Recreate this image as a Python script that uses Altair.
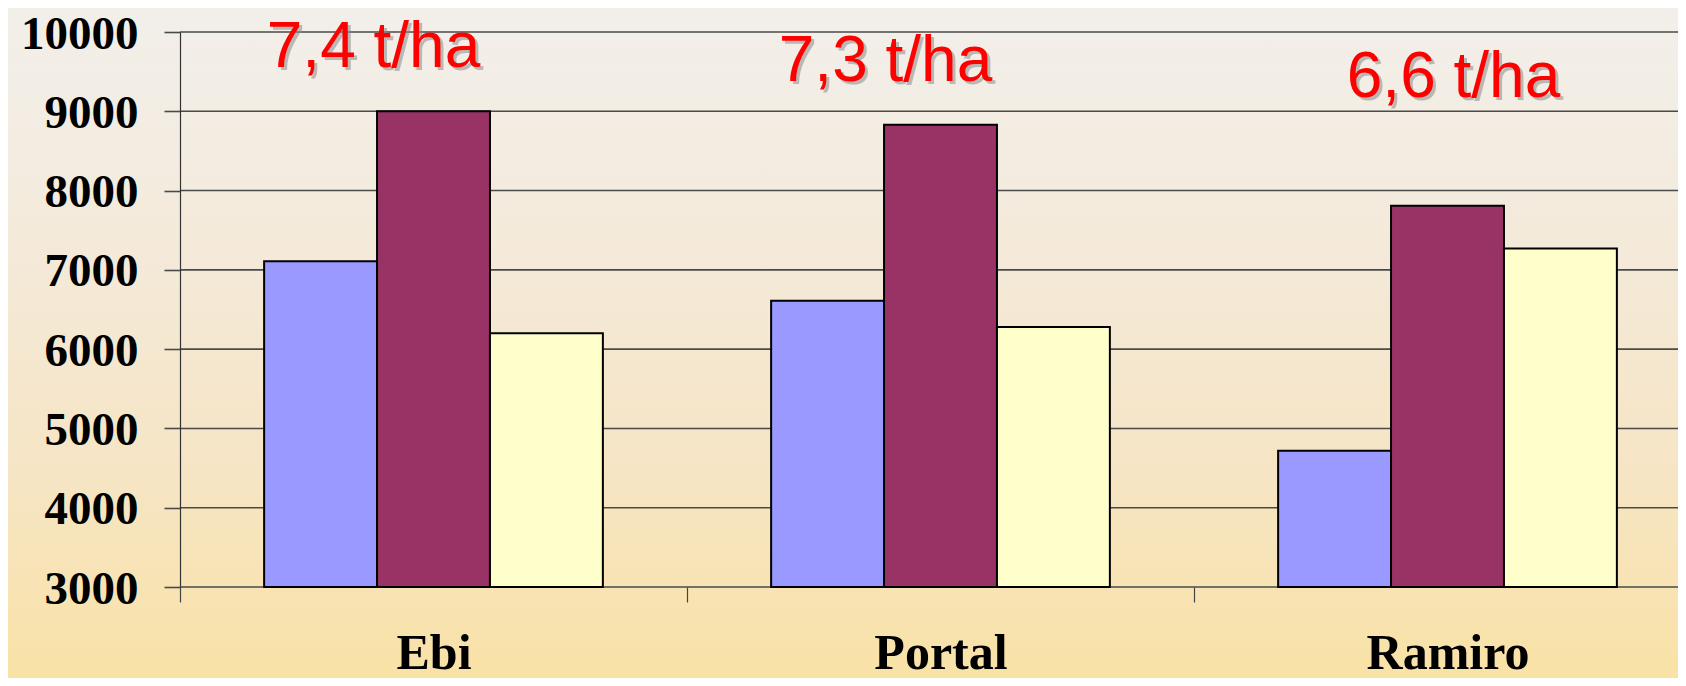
import altair as alt
import pandas as pd

# ---- data ----
varieties = ["Ebi", "Portal", "Ramiro"]
series = ["Serie 1", "Serie 2", "Serie 3"]
serie1 = [7110, 6610, 4720]
serie2 = [9000, 8830, 7810]
serie3 = [6200, 6280, 7270]
y_ticks = [3000, 4000, 5000, 6000, 7000, 8000, 9000, 10000]
yield_labels = ["7,4 t/ha", "7,3 t/ha", "6,6 t/ha"]
label_levels = [9560, 9380, 9180]  # anchor heights of the yield labels (axis units)

colors = ["#9999FF", "#993366", "#FFFFCC"]

rows = []
for i, v in enumerate(varieties):
    for s, vals in zip(series, [serie1, serie2, serie3]):
        rows.append({"variety": v, "series": s, "value": vals[i]})
df = pd.DataFrame(rows)

W, H = 1498, 555
PAD = {"left": 172, "top": 24, "right": 0, "bottom": 91}

x_scale = alt.Scale(domain=varieties, range=[0, 1521], paddingInner=0, paddingOuter=0)
y_scale = alt.Scale(domain=[3000, 10000], nice=False, zero=False)

x_axis = alt.Axis(
    title=None, domain=False, grid=False, tickBand="extent", tickSize=15,
    tickColor="#444444", tickWidth=1.2, labelFont="Liberation Serif",
    labelFontWeight="bold", labelFontSize=50, labelColor="black",
    labelAngle=0, labelBaseline="alphabetic", labelPadding=66, zindex=1,
)
y_axis = alt.Axis(
    values=y_ticks, format="d", title=None, grid=False, tickSize=16,
    tickColor="#4a4a4a", tickWidth=1.6, domainColor="#333333",
    domainWidth=1.2, labelFont="Liberation Serif", labelFontWeight="bold",
    labelFontSize=47, labelColor="black", labelPadding=26, labelOffset=2,
    zindex=1,
)

# background gradient covering the whole picture
bg = alt.Chart(pd.DataFrame({"a": [0]})).mark_rect(
    fill=alt.Gradient(
        gradient="linear",
        stops=[
            alt.GradientStop(color="#F2EFEA", offset=0),
            alt.GradientStop(color="#F4EADA", offset=0.35),
            alt.GradientStop(color="#F6E5C4", offset=0.7),
            alt.GradientStop(color="#F9E2A6", offset=1),
        ],
        x1=0, x2=0, y1=0, y2=1,
    ),
    strokeWidth=0,
).encode(
    x=alt.value(-PAD["left"]), x2=alt.value(W + 40),
    y=alt.value(-PAD["top"]), y2=alt.value(H + PAD["bottom"]),
)

grid = alt.Chart(pd.DataFrame({"value": y_ticks})).mark_rule(
    color="#4a4a4a", strokeWidth=1.6
).encode(
    y=alt.Y("value:Q", scale=y_scale, axis=y_axis),
    x=alt.value(0), x2=alt.value(1530),
)

bars = alt.Chart(df).mark_bar(stroke="black", strokeWidth=2).encode(
    x=alt.X("variety:N", sort=varieties, scale=x_scale, axis=x_axis),
    xOffset=alt.XOffset("series:N", sort=series,
                        scale=alt.Scale(paddingOuter=0.745, paddingInner=0)),
    y=alt.Y("value:Q", scale=y_scale, axis=y_axis),
    y2=alt.datum(3000),
    color=alt.Color("series:N", sort=series,
                    scale=alt.Scale(domain=series, range=colors), legend=None),
)

dxs = [-60, -55, 6]
label_layers = []
for v, txt, lvl, dx in zip(varieties, yield_labels, label_levels, dxs):
    d = pd.DataFrame({"variety": [v], "value": [lvl], "t": [txt]})
    enc = dict(
        x=alt.X("variety:N", sort=varieties, scale=x_scale, axis=x_axis),
        y=alt.Y("value:Q", scale=y_scale, axis=y_axis),
        text="t:N",
    )
    shadow = alt.Chart(d).mark_text(
        font="Liberation Sans", fontSize=64, color="#8c8c8c", opacity=0.55,
        align="center", baseline="alphabetic", dx=dx + 3, dy=3,
    ).encode(**enc)
    main = alt.Chart(d).mark_text(
        font="Liberation Sans", fontSize=64, color="#FF0000",
        align="center", baseline="alphabetic", dx=dx,
    ).encode(**enc)
    label_layers += [shadow, main]

chart = alt.layer(bg, grid, bars, *label_layers).properties(
    width=W, height=H,
    autosize=alt.AutoSizeParams(type="none"),
    padding=PAD,
).configure_view(stroke=None)

chart.save("out.html", embed_options={"renderer": "svg", "actions": False})
